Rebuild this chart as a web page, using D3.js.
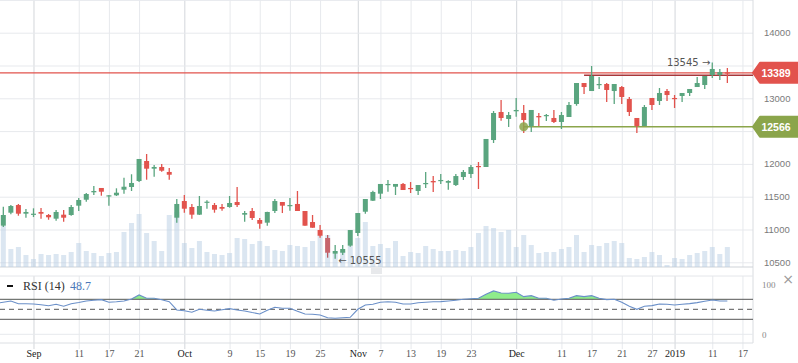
<!DOCTYPE html>
<html>
<head>
<meta charset="utf-8">
<script src="https://cdn.jsdelivr.net/npm/d3@7/dist/d3.min.js"></script>
<style>
  body { margin: 0; background: #fff; }
  svg { display: block; }
  .grid line { stroke: #e7e9ed; }
  .grid line.month { stroke: #d3d6db; }
  .grid path { display: none; }
</style>
</head>
<body>
<svg id="chart" width="798" height="363"></svg>
<script>
// daily candles, index 0..96
const open = [11058,11256,11373,11241,11226,11267,11221,11165,11226,11221,
  11363,11454,11567,11633,11506,11521,11607,11648,11739,12044,
  11927,11953,11877,11180,11434,11343,11226,11409,11373,11343,
  11343,11419,11226,11282,11145,11104,11282,11419,11358,11389,
  11282,11114,10992,10870,10631,10646,10753,10947,11271,11439,
  11546,11678,11652,11694,11633,11587,11694,11739,11739,11713,
  11678,11800,11846,11968,11953,12364,12791,12685,12802,12776,
  12578,12730,12730,12700,12639,12715,12913,13233,13111,13203,
  13218,13111,13172,12989,12700,12578,13005,12959,13111,13005,
  13035,13081,13172,13203,13355,13355,13395];
const high = [11348,11373,11389,11312,11323,11328,11236,11297,11297,11373,
  11480,11556,11663,11633,11526,11628,11790,11842,12075,12151,
  11983,11998,11938,11465,11526,11389,11511,11445,11404,11389,
  11511,11648,11282,11328,11175,11271,11465,11419,11480,11587,
  11282,11221,11069,10916,10764,10764,10992,11251,11465,11592,
  11694,11755,11694,11709,11724,11678,11877,11815,11846,11750,
  11846,11907,11983,12029,12380,12806,12974,12791,13005,12898,
  12822,12776,12761,12822,12791,12944,13233,13233,13492,13325,
  13233,13218,13188,13020,12700,12898,13005,13157,13142,13050,
  13081,13142,13325,13340,13545,13447,13462];
const low = [11038,11232,11210,11180,11190,11165,11149,11134,11119,11210,
  11282,11424,11526,11515,11363,11511,11546,11587,11724,11759,
  11805,11881,11759,11104,11256,11165,11221,11317,11256,11287,
  11332,11343,11119,11145,11012,11058,11251,11251,11287,11282,
  11058,11027,10875,10570,10555,10611,10738,10901,11241,11434,
  11465,11576,11526,11602,11556,11526,11633,11572,11694,11607,
  11663,11755,11785,11617,11953,12319,12659,12563,12720,12471,
  12486,12578,12654,12623,12532,12715,12887,13066,13111,13142,
  12944,12913,12913,12730,12471,12578,12822,12898,12959,12852,
  12944,13035,13172,13142,13310,13279,13233];
const close = [11221,11358,11241,11267,11241,11241,11186,11267,11180,11343,
  11450,11541,11587,11576,11521,11561,11652,11709,12075,11927,
  11953,11896,11835,11389,11317,11226,11358,11424,11302,11317,
  11404,11373,11251,11175,11088,11267,11434,11363,11373,11282,
  11058,11027,10905,10646,10672,10703,10992,11251,11465,11572,
  11694,11694,11694,11602,11618,11678,11709,11719,11755,11739,
  11815,11877,11953,11953,12380,12776,12700,12745,12822,12669,
  12822,12710,12745,12639,12745,12898,13233,13172,13340,13218,
  13127,13218,13020,12791,12578,12867,12898,13081,13050,12989,
  13081,13142,13233,13340,13447,13401,13389];
const volume = [4100,1800,2000,1200,800,1300,1200,1300,1200,1500,
  2400,1600,1400,1100,1400,1500,3500,4400,5300,3400,
  2600,1600,5200,5500,2400,1900,2600,1500,1300,1200,
  1400,2900,2800,2300,2600,2100,1700,1600,2200,2100,
  2000,2600,3200,3200,1300,1600,2100,2900,4500,2100,
  2300,1900,2600,1100,1500,1400,2100,1800,1600,1600,
  1700,1600,2000,3400,4100,3900,3500,3700,2000,3200,
  2200,1400,1500,1500,1800,2000,3200,1500,2200,2100,
  2400,2600,2400,900,800,1000,1500,1200,200,900,
  800,1200,1400,1600,2000,1300,2000];
const rsi = [63,66.7,61,61,60.5,59,57,60,56,61,
  63.5,66.7,68,69.3,64,65,66.7,70.7,78.7,72,
  72,69,65.3,48.7,47,44,50,48,46.7,49,
  51.3,48.5,46.7,43.5,40.7,48,54,52,52,46,
  40.7,40,38.7,33,32,33,34,50,58.7,60,
  64,65,64,60.7,60.7,63,64,65,65.3,66.5,
  68,70,71,72,80,86.7,82.5,82,84,75.3,
  77.3,72,72,68,70.7,72,77.3,75.3,77.3,72,
  69.3,70,64,56,50,56,57.3,60.7,60,58.7,
  60,61.3,63.3,66,68.7,66.7,66.7];

// x axis labels (candle index -> label)
const tickIdx = [4,10,14,18,24,30,34,38,42,47,50,54,58,62,68,74,78,82,86,89,94,98];
const tickLabels = ['Sep','11','17','21','Oct','9','15','19','25','Nov','7','13','19','23','Dec','11','17','21','27','2019','11','17'];
const monthIdx = [4,24,47,68,89];

const priceTicks = [10500,11000,11500,12000,12500,13000,13500,14000,14500];
const hiddenPriceLabels = [12500,13500,14500]; // under the price tags / off top
const rsiLevels = [30,50,70];

const lastPrice = 13389;
const support = { idx: 69, value: 12566 };
const markLine = { idx: 77, value: 13350 };
const highMark = { idx: 94, value: 13545 };
const lowMark = { idx: 44, value: 10555 };
const rsiLabel = 48.7;

const green = '#5aa57f', red = '#e2534d', olive = '#8ba54b';
const plotRight = 753;
const mainBottom = 267, rsiTop = 276, rsiBottom = 343;
const noteFont = '10px "DejaVu Sans", "Liberation Sans", sans-serif';

const svg = d3.select('#chart');
svg.append('rect').attr('width', 798).attr('height', 363).attr('fill', '#fff');

const x = d3.scaleLinear().domain([-0.44, 99.4]).range([0, plotRight]);
const y = d3.scaleLinear().domain([10500, 14000]).range([262.3, 32.7]);
const yVol = d3.scaleLinear().domain([0, 7000]).range([mainBottom, 197]);
const yRsi = d3.scaleLinear().domain([0, 100]).range([334.3, 284.3]);

//////////////////////////////////////////////////////////////////
// grids
svg.append('g')
  .attr('class', 'grid')
  .attr('transform', `translate(0,${mainBottom})`)
  .call(d3.axisBottom(x).tickValues(tickIdx).tickSize(-mainBottom).tickFormat(''))
  .selectAll('.tick line')
  .classed('month', d => monthIdx.includes(d));

svg.append('g')
  .attr('class', 'grid')
  .attr('transform', `translate(0,${rsiBottom + 6})`)
  .call(d3.axisBottom(x).tickValues(tickIdx).tickSize(-(rsiBottom + 6 - rsiTop)).tickFormat(''))
  .selectAll('.tick line')
  .classed('month', d => monthIdx.includes(d));

const yAxis = svg.append('g')
  .attr('class', 'grid')
  .attr('transform', `translate(${plotRight},0)`)
  .call(d3.axisRight(y).tickValues(priceTicks).tickSize(-plotRight).tickPadding(11)
    .tickFormat(d => hiddenPriceLabels.includes(d) ? '' : d));
yAxis.selectAll('text')
  .attr('fill', '#7a7a7a')
  .style('font', '9.5px "Liberation Sans", Arial, sans-serif');

// frame lines
svg.append('line').attr('x1', plotRight).attr('x2', plotRight).attr('y1', 0).attr('y2', rsiBottom)
  .attr('stroke', '#d9dce0');
svg.append('line').attr('x1', 0).attr('x2', plotRight).attr('y1', mainBottom).attr('y2', mainBottom)
  .attr('stroke', '#cfd3d8');
svg.append('line').attr('x1', 0).attr('x2', plotRight).attr('y1', rsiTop).attr('y2', rsiTop)
  .attr('stroke', '#e4e6ea');
svg.append('line').attr('x1', 0).attr('x2', plotRight).attr('y1', yRsi(0)).attr('y2', yRsi(0))
  .attr('stroke', '#e7e9ed');
svg.append('line').attr('x1', 0).attr('x2', plotRight).attr('y1', rsiBottom).attr('y2', rsiBottom)
  .attr('stroke', '#dcdfe3');

//////////////////////////////////////////////////////////////////
// volume
const idx = d3.range(close.length);
svg.append('g')
  .selectAll('rect')
  .data(idx)
  .enter()
  .append('rect')
    .attr('x', i => x(i) - 2.5)
    .attr('width', 5)
    .attr('y', i => yVol(volume[i]))
    .attr('height', i => mainBottom - yVol(volume[i]))
    .attr('fill', '#b7cde3')
    .attr('opacity', 0.5);

// price lines
svg.append('line')
  .attr('x1', 0).attr('x2', plotRight)
  .attr('y1', y(lastPrice)).attr('y2', y(lastPrice))
  .attr('stroke', red).attr('stroke-width', 1.2);

svg.append('line')
  .attr('x1', x(markLine.idx)).attr('x2', plotRight)
  .attr('y1', y(markLine.value)).attr('y2', y(markLine.value))
  .attr('stroke', '#a8373a').attr('stroke-width', 1.5);

svg.append('line')
  .attr('x1', x(support.idx)).attr('x2', plotRight)
  .attr('y1', y(support.value)).attr('y2', y(support.value))
  .attr('stroke', olive).attr('stroke-width', 1.5);

//////////////////////////////////////////////////////////////////
// candles
const candles = svg.append('g')
  .selectAll('g')
  .data(idx)
  .enter()
  .append('g')
  .attr('fill', i => close[i] >= open[i] ? green : red)
  .attr('stroke', i => close[i] >= open[i] ? green : red);

candles.append('line')
  .attr('x1', i => x(i)).attr('x2', i => x(i))
  .attr('y1', i => y(high[i])).attr('y2', i => y(low[i]))
  .attr('stroke-width', 1.3);

candles.append('rect')
  .attr('x', i => x(i) - 2.5)
  .attr('width', 5)
  .attr('y', i => y(Math.max(open[i], close[i])))
  .attr('height', i => Math.max(1.2, Math.abs(y(open[i]) - y(close[i]))))
  .attr('stroke', 'none');

// hovered candle is drawn dimmed
candles.filter(i => i === 43).attr('fill', '#c7656c').attr('stroke', '#b85a60');

svg.append('circle')
  .attr('cx', x(support.idx)).attr('cy', y(support.value))
  .attr('r', 4.5).attr('fill', olive).attr('opacity', 0.85);

// high / low notes
svg.append('text')
  .attr('x', x(highMark.idx) - 2).attr('y', y(highMark.value) + 3.5)
  .attr('text-anchor', 'end')
  .attr('fill', '#555')
  .style('font', noteFont)
  .text(`${highMark.value} →`);

svg.append('text')
  .attr('x', x(lowMark.idx) + 3).attr('y', y(lowMark.value) + 5)
  .attr('fill', '#555')
  .style('font', noteFont)
  .text(`← ${lowMark.value}`);

// price labels on the right
const tag = (value, color) => {
  const cy = y(value);
  svg.append('path')
    .attr('d', `M${plotRight},${cy} L${plotRight + 7},${cy - 10} H798 V${cy + 10} H${plotRight + 7} Z`)
    .attr('fill', color)
    .attr('stroke', color)
    .attr('stroke-linejoin', 'round')
    .attr('stroke-width', 2);
  svg.append('text')
    .attr('x', 776).attr('y', cy + 4)
    .attr('text-anchor', 'middle')
    .attr('fill', '#fff')
    .style('font', 'bold 10.5px "Liberation Sans", Arial, sans-serif')
    .text(value);
};
tag(lastPrice, red);
tag(support.value, olive);

//////////////////////////////////////////////////////////////////
// pane resize handle
svg.append('g')
  .selectAll('line')
  .data([-2, 0, 2])
  .enter()
  .append('line')
    .attr('x1', 371).attr('x2', 382)
    .attr('y1', d => 271 + d).attr('y2', d => 271 + d)
    .attr('stroke', '#c4c8ce').attr('stroke-width', 0.8);

//////////////////////////////////////////////////////////////////
// RSI pane
svg.append('defs')
  .append('clipPath')
    .attr('id', 'over70')
    .append('rect')
      .attr('x', 0).attr('y', 0)
      .attr('width', plotRight).attr('height', yRsi(70));

svg.append('path')
  .datum(idx)
  .attr('clip-path', 'url(#over70)')
  .attr('fill', '#8fec8c')
  .attr('d', d3.area()
    .x(i => x(i))
    .y0(yRsi(70))
    .y1(i => yRsi(rsi[i])));

rsiLevels.forEach(v => {
  svg.append('line')
    .attr('x1', 0).attr('x2', plotRight)
    .attr('y1', yRsi(v)).attr('y2', yRsi(v))
    .attr('stroke', '#555')
    .attr('stroke-dasharray', v === 50 ? '5,4' : null);
});

svg.append('path')
  .datum(idx)
  .attr('fill', 'none')
  .attr('stroke', '#6a8fc8')
  .attr('stroke-width', 1.1)
  .attr('d', d3.line()
    .x(i => i === 0 ? 0 : x(i))
    .y(i => yRsi(rsi[i])));

// RSI legend
svg.append('line')
  .attr('x1', 7).attr('x2', 13).attr('y1', 286).attr('y2', 286)
  .attr('stroke', '#111').attr('stroke-width', 2);
svg.append('text')
  .attr('x', 23).attr('y', 290)
  .attr('fill', '#333')
  .style('font', '12px "Liberation Serif", "Times New Roman", serif')
  .text('RSI (14)');
svg.append('text')
  .attr('x', 70).attr('y', 290)
  .attr('fill', '#4a78b8')
  .style('font', '12px "Liberation Serif", "Times New Roman", serif')
  .text(rsiLabel);

const rsiAxis = svg.append('g')
  .attr('transform', `translate(${plotRight},0)`)
  .call(d3.axisRight(yRsi).tickValues([0, 100]).tickSize(0).tickPadding(9));
rsiAxis.select('.domain').remove();
rsiAxis.selectAll('text')
  .attr('fill', '#888')
  .style('font', '9px "Liberation Serif", "Times New Roman", serif');

svg.append('text')
  .attr('x', 788).attr('y', 284)
  .attr('text-anchor', 'middle')
  .attr('fill', '#999')
  .style('font', '14px "DejaVu Sans", sans-serif')
  .text('×');

// date labels
const xAxis = svg.append('g')
  .attr('transform', `translate(0,${rsiBottom})`)
  .call(d3.axisBottom(x).tickValues(tickIdx).tickSize(0).tickPadding(7)
    .tickFormat((d, k) => tickLabels[k]));
xAxis.select('.domain').remove();
xAxis.selectAll('text')
  .attr('fill', d => monthIdx.includes(d) ? '#1a1a1a' : '#555')
  .style('font', '10px "Liberation Serif", "Times New Roman", serif');
</script>
</body>
</html>
